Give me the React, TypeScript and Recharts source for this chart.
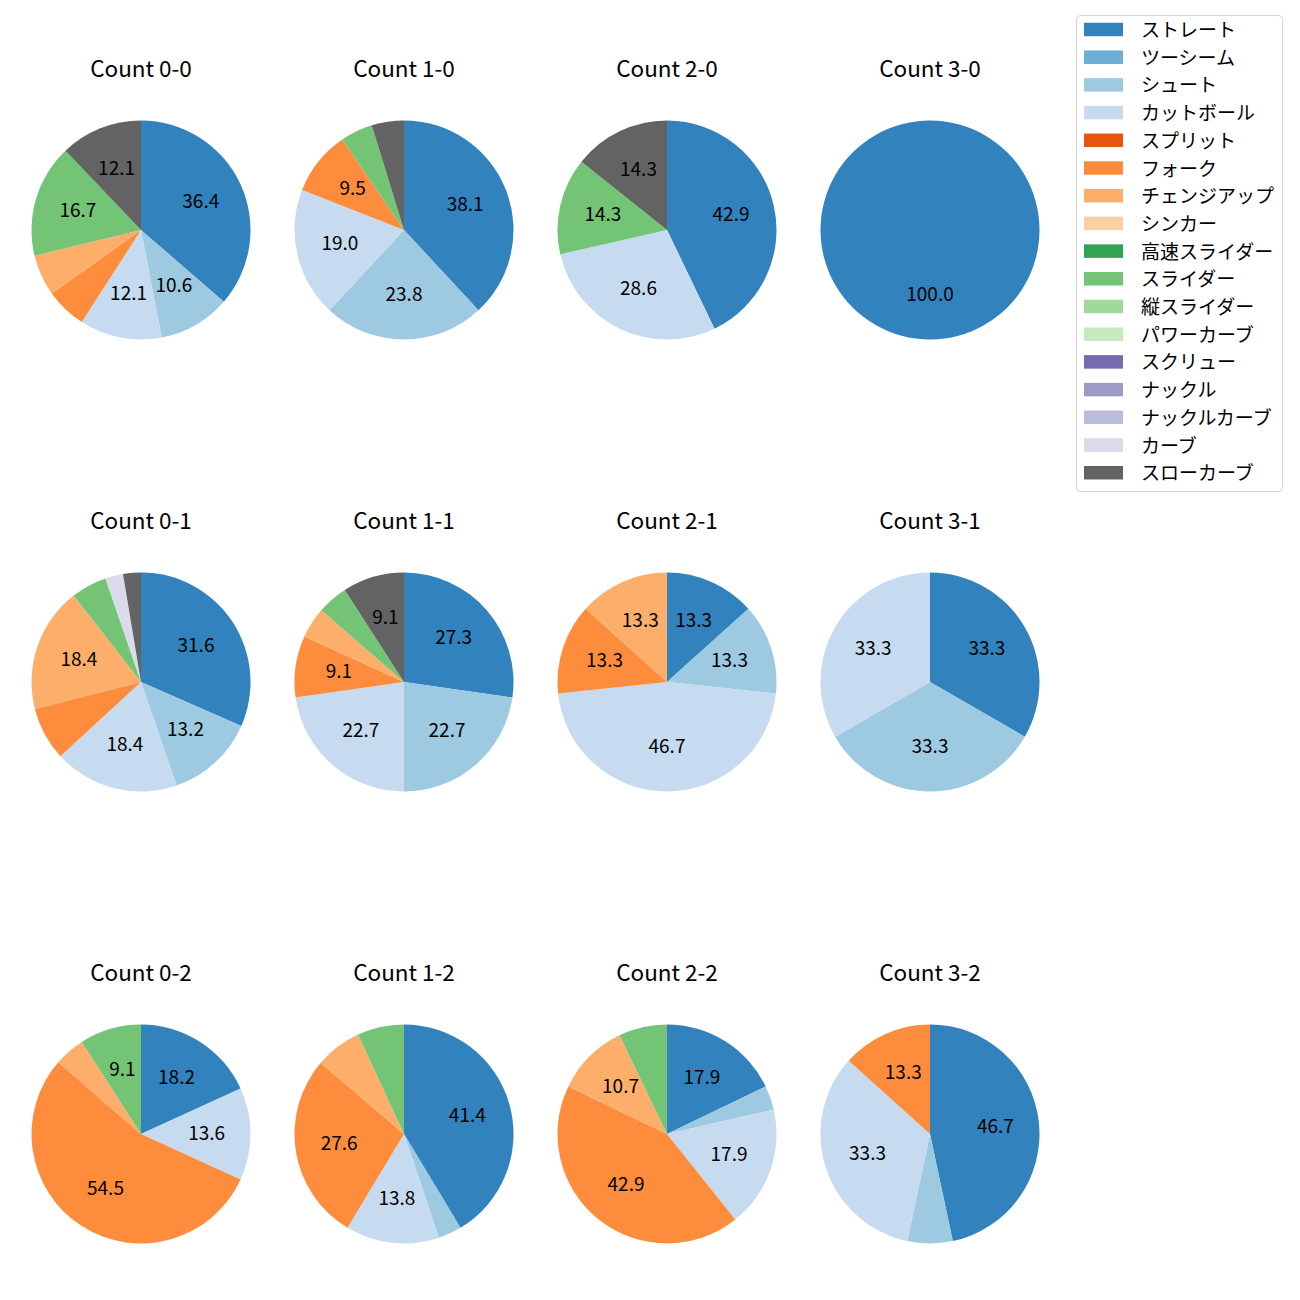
import React from 'react';
import { PieChart, Pie, Cell, Customized } from 'recharts';

const categories = ['ストレート', 'ツーシーム', 'シュート', 'カットボール', 'スプリット', 'フォーク', 'チェンジアップ', 'シンカー', '高速スライダー', 'スライダー', '縦スライダー', 'パワーカーブ', 'スクリュー', 'ナックル', 'ナックルカーブ', 'カーブ', 'スローカーブ'];
const colors = ['#3182bd', '#6baed6', '#9ecae1', '#c6dbef', '#e6550d', '#fd8d3c', '#fdae6b', '#fdd0a2', '#31a354', '#74c476', '#a1d99b', '#c7e9c0', '#756bb1', '#9e9ac8', '#bcbddc', '#dadaeb', '#636363'];

// pitch counts per category (order as categories)
const count00 = [24, 0, 7, 8, 0, 4, 4, 0, 0, 11, 0, 0, 0, 0, 0, 0, 8];
const count10 = [8, 0, 5, 4, 0, 2, 0, 0, 0, 1, 0, 0, 0, 0, 0, 0, 1];
const count20 = [3, 0, 0, 2, 0, 0, 0, 0, 0, 1, 0, 0, 0, 0, 0, 0, 1];
const count30 = [1, 0, 0, 0, 0, 0, 0, 0, 0, 0, 0, 0, 0, 0, 0, 0, 0];
const count01 = [12, 0, 5, 7, 0, 3, 7, 0, 0, 2, 0, 0, 0, 0, 0, 1, 1];
const count11 = [6, 0, 5, 5, 0, 2, 1, 0, 0, 1, 0, 0, 0, 0, 0, 0, 2];
const count21 = [2, 0, 2, 7, 0, 2, 2, 0, 0, 0, 0, 0, 0, 0, 0, 0, 0];
const count31 = [1, 0, 1, 1, 0, 0, 0, 0, 0, 0, 0, 0, 0, 0, 0, 0, 0];
const count02 = [4, 0, 0, 3, 0, 12, 1, 0, 0, 2, 0, 0, 0, 0, 0, 0, 0];
const count12 = [12, 0, 1, 4, 0, 8, 2, 0, 0, 2, 0, 0, 0, 0, 0, 0, 0];
const count22 = [5, 0, 1, 5, 0, 12, 3, 0, 0, 2, 0, 0, 0, 0, 0, 0, 0];
const count32 = [7, 0, 1, 5, 0, 2, 0, 0, 0, 0, 0, 0, 0, 0, 0, 0, 0];

const titles = ['Count 0-0', 'Count 1-0', 'Count 2-0', 'Count 3-0', 'Count 0-1', 'Count 1-1', 'Count 2-1', 'Count 3-1', 'Count 0-2', 'Count 1-2', 'Count 2-2', 'Count 3-2'];
const allCounts = [count00, count10, count20, count30, count01, count11, count21, count31, count02, count12, count22, count32];

const colX = [141, 404, 667, 930];
const rowY = [230, 682, 1134];
const R = 109.5;
const FONT = '"Noto Sans CJK JP", "Noto Sans", sans-serif';
const LABEL_SIZE = 19;
const TITLE_SIZE = 22.5;

const RAD = Math.PI / 180;

const renderLabel = (props: any) => {
  const { cx, cy, midAngle, outerRadius, percent } = props;
  if (percent * 100 < 8) return null;
  const r = outerRadius * 0.6;
  const x = cx + r * Math.cos(-midAngle * RAD);
  const y = cy + r * Math.sin(-midAngle * RAD) - 3;
  return (
    <text x={x} y={y} fill="#000" textAnchor="middle" dominantBaseline="central" fontSize={LABEL_SIZE} fontFamily={FONT}>
      {(percent * 100).toFixed(1)}
    </text>
  );
};

const Overlay = () => (
  <g>
    {titles.map((t, i) => (
      <text key={t} x={colX[i % 4]} y={rowY[Math.floor(i / 4)] - 163} textAnchor="middle" dominantBaseline="central" fontSize={TITLE_SIZE} fontFamily={FONT} fill="#000">
        {t}
      </text>
    ))}
    <rect x={1076.5} y={15.5} width={206} height={476} rx={4} ry={4} fill="#fff" fillOpacity={0.8} stroke="#d5d5d5" strokeWidth={1} />
    {categories.map((c, i) => {
      const y = 29.5 + i * 27.7;
      return (
        <g key={c}>
          <rect x={1084} y={y - 6.75} width={39} height={13.5} fill={colors[i]} />
          <text x={1141} y={y - 1} dominantBaseline="central" fontSize={LABEL_SIZE} fontFamily={FONT} fill="#000">{c}</text>
        </g>
      );
    })}
  </g>
);

export default function App() {
  return (
    <div style={{ position: 'absolute', left: 0, top: 0, width: 1300, height: 1300, background: '#fff' }}>
      <PieChart width={1300} height={1300} margin={{ top: 0, right: 0, bottom: 0, left: 0 }}>
        {allCounts.map((counts, i) => {
          const data = counts
            .map((v, k) => ({ name: categories[k], value: v, color: colors[k] }))
            .filter((d) => d.value > 0);
          return (
            <Pie
              key={titles[i]}
              data={data}
              dataKey="value"
              nameKey="name"
              cx={colX[i % 4]}
              cy={rowY[Math.floor(i / 4)]}
              outerRadius={R}
              innerRadius={0}
              startAngle={90}
              endAngle={-270}
              stroke="none"
              label={renderLabel}
              labelLine={false}
              isAnimationActive={false}
            >
              {data.map((d) => (
                <Cell key={d.name} fill={d.color} />
              ))}
            </Pie>
          );
        })}
        <Customized component={Overlay} />
      </PieChart>
    </div>
  );
}
